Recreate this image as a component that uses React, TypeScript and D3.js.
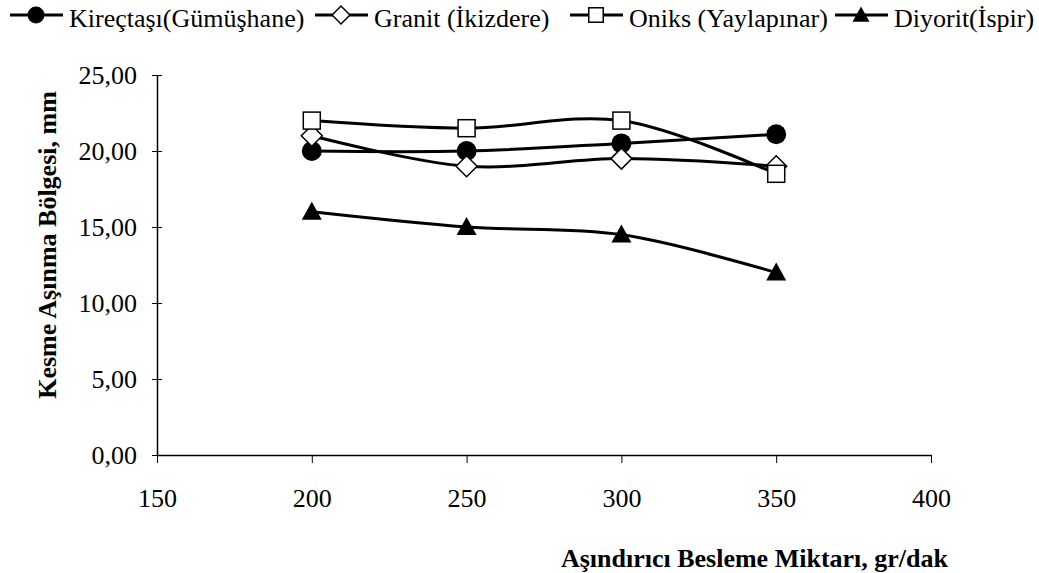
import { useEffect, useRef } from 'react'
import * as d3 from 'd3'

const feedRates = [200, 250, 300, 350]
const kirectasi = [20.0, 20.0, 20.5, 21.1]
const granit = [21.0, 19.0, 19.5, 19.0]
const oniks = [22.0, 21.5, 22.0, 18.5]
const diyorit = [16.0, 15.0, 14.5, 12.0]
const seriesNames = ['Kireçtaşı(Gümüşhane)', 'Granit (İkizdere)', 'Oniks (Yaylapınar)', 'Diyorit(İspir)']
const xTicks = [150, 200, 250, 300, 350, 400]
const yTicks = [0, 5, 10, 15, 20, 25]

type Marker = 'circle' | 'diamond' | 'square' | 'triangle'

const FONT = "'Liberation Serif', 'DejaVu Serif', 'Noto Serif', serif"

const App = () => {
  const svgRef = useRef<SVGSVGElement | null>(null)

  useEffect(() => {
    if (!svgRef.current) return
    const svg = d3.select(svgRef.current)
    svg.selectAll('*').remove()

    const width = 1039
    const height = 573
    const margin = { top: 75, right: 108, bottom: 118, left: 157 }

    const x = d3.scaleLinear().domain([150, 400]).range([margin.left, width - margin.right])
    const y = d3.scaleLinear().domain([0, 25]).range([height - margin.bottom, margin.top])

    const drawMarker = (g: d3.Selection<SVGGElement, unknown, null, undefined>, type: Marker, cx: number, cy: number, k = 1) => {
      if (type === 'circle') {
        g.append('circle').attr('cx', cx).attr('cy', cy).attr('r', 10 * k).attr('fill', '#000')
      } else if (type === 'diamond') {
        const s = 10.5 * k
        g.append('path')
          .attr('d', `M${cx},${cy - s}L${cx + s},${cy}L${cx},${cy + s}L${cx - s},${cy}Z`)
          .attr('fill', '#fff').attr('stroke', '#000').attr('stroke-width', 1.5)
      } else if (type === 'square') {
        const s = 8.5 * k
        g.append('rect').attr('x', cx - s).attr('y', cy - s).attr('width', 2 * s).attr('height', 2 * s)
          .attr('fill', '#fff').attr('stroke', '#000').attr('stroke-width', 1.5)
      } else {
        const s = 10 * k
        g.append('path')
          .attr('d', `M${cx},${cy - s}L${cx + s},${cy + s * 0.8}L${cx - s},${cy + s * 0.8}Z`)
          .attr('fill', '#000')
      }
    }

    // axes
    const yAxis = svg.append('g').attr('transform', `translate(${margin.left},0)`)
      .call(d3.axisLeft(y).tickValues(yTicks).tickSizeInner(5).tickSizeOuter(0)
        .tickFormat((d) => d3.format('.2f')(d as number).replace('.', ',')))
    yAxis.selectAll('.tick line').attr('x1', 5).attr('x2', -5)
    yAxis.selectAll('.tick text').attr('x', -20).attr('dy', '0.34em')

    const xAxis = svg.append('g').attr('transform', `translate(0,${height - margin.bottom})`)
      .call(d3.axisBottom(x).tickValues(xTicks).tickSizeInner(8).tickSizeOuter(0).tickFormat(d3.format('d')))
    xAxis.selectAll('.tick text').attr('y', 0).attr('dy', '52px')

    svg.selectAll('g').attr('font-family', null).attr('font-size', null)
    svg.selectAll('.domain').attr('stroke', '#000').attr('stroke-width', 1.5)
    svg.selectAll('.tick line').attr('stroke', '#000').attr('stroke-width', 1)
    svg.selectAll('.tick text').attr('font-size', 26).attr('fill', '#000')

    // series
    const all = [kirectasi, granit, oniks, diyorit]
    const markers: Marker[] = ['circle', 'diamond', 'square', 'triangle']
    const line = d3.line<number>()
      .x((_, i) => x(feedRates[i]))
      .y((d) => y(d))
      .curve(d3.curveCatmullRom.alpha(0.5))

    all.forEach((vals) => {
      svg.append('path').datum(vals).attr('fill', 'none').attr('stroke', '#000')
        .attr('stroke-width', 3).attr('d', line)
    })
    all.forEach((vals, si) => {
      const g = svg.append('g')
      vals.forEach((v, i) => drawMarker(g, markers[si], x(feedRates[i]), y(v)))
    })

    // legend
    const legendX = [10, 315, 570, 835]
    seriesNames.forEach((name, i) => {
      const g = svg.append('g')
      const lx = legendX[i]
      g.append('line').attr('x1', lx).attr('x2', lx + 53).attr('y1', 15).attr('y2', 15)
        .attr('stroke', '#000').attr('stroke-width', 3)
      drawMarker(g, markers[i], lx + 26, 15, 0.85)
      g.append('text').attr('x', lx + 59).attr('y', 27).attr('font-size', 26).text(name)
    })

    // axis titles
    svg.append('text')
      .attr('transform', `translate(56,245) rotate(-90)`)
      .attr('text-anchor', 'middle').attr('font-weight', 'bold')
      .attr('font-size', 26).text('Kesme Aşınma Bölgesi, mm')
    svg.append('text')
      .attr('x', 948).attr('y', 567).attr('text-anchor', 'end')
      .attr('font-weight', 'bold').attr('font-size', 26)
      .text('Aşındırıcı Besleme Miktarı, gr/dak')
  }, [])

  return (
    <svg ref={svgRef} width={1039} height={573}
      style={{ position: 'absolute', left: 0, top: 0, background: '#fff', fontFamily: FONT }} />
  )
}

export default App
